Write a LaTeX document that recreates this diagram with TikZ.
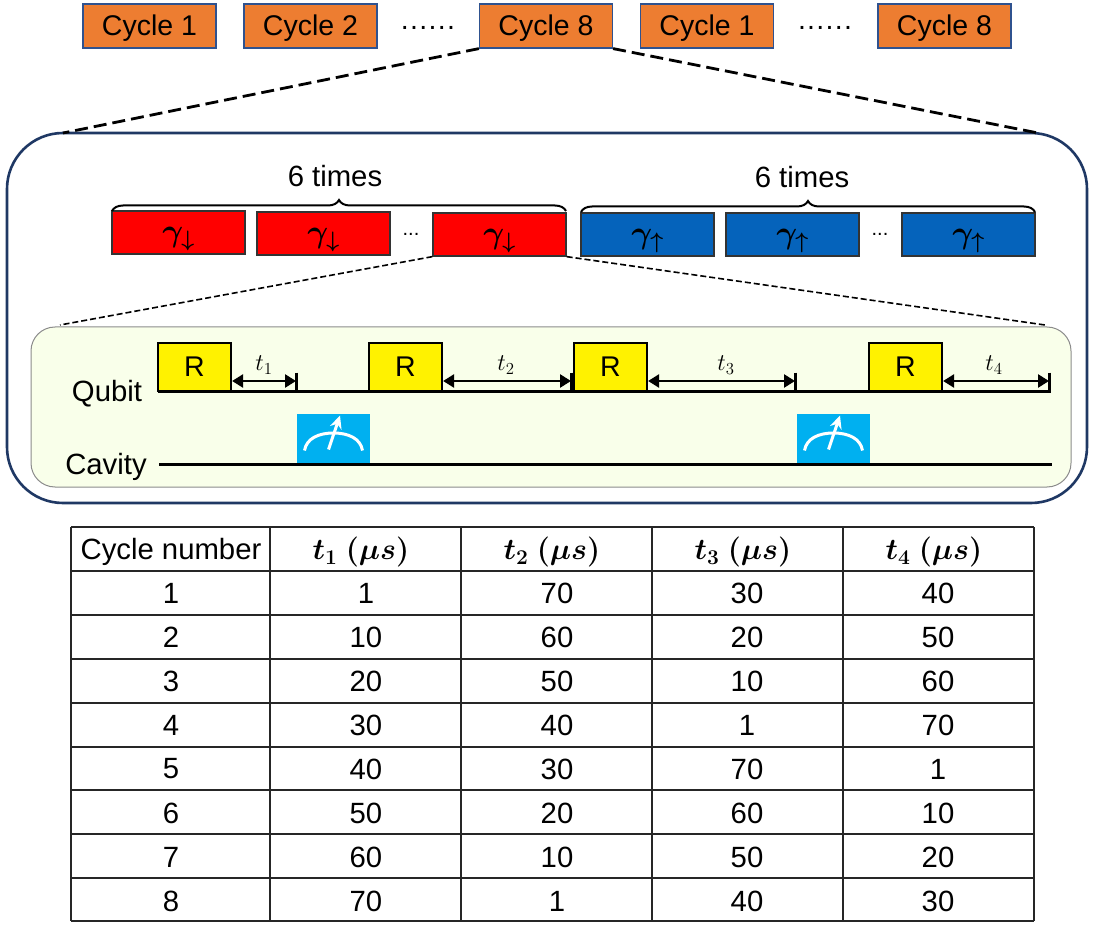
\RequirePackage{fix-cm}
\documentclass[tikz,border=0pt]{standalone}
\usepackage{fontspec}
\setmainfont{Liberation Sans}
\usetikzlibrary{arrows.meta,decorations.pathreplacing}
\definecolor{cyc}{HTML}{ED7D31}
\definecolor{navy}{HTML}{1F3864}
\definecolor{edgeblue}{HTML}{2F528F}
\definecolor{rblue}{HTML}{0563BB}
\definecolor{panel}{HTML}{F9FFEA}
\definecolor{meas}{HTML}{00B0F0}
\newcommand{\tsz}{\fontsize{29.3}{32}\selectfont}
\newcommand{\csz}{\fontsize{28.5}{32}\selectfont}
\newcommand{\msz}{\fontsize{24}{28}\selectfont}
\newcommand{\gsz}{\fontsize{32}{36}\selectfont\boldmath}
\newcommand{\hsz}{\fontsize{30}{36}\selectfont\boldmath}
\newcommand{\gam}[1]{\smash{\raisebox{-9pt}{$\gamma_{#1}$}}}
\tikzset{
  cyclebox/.style={draw=edgeblue,line width=1.2pt,fill=cyc,minimum width=133pt,minimum height=44pt,inner sep=0pt,font=\csz,text=black,text height=21pt,text depth=1pt},
  txt/.style={inner sep=0pt,font=\tsz,text=black},
  redbox/.style={draw=black!80,line width=1.3pt,fill=red,minimum width=133pt,minimum height=43pt,inner sep=0pt,font=\gsz},
  bluebox/.style={draw=black!80,line width=1.3pt,fill=rblue,minimum width=133pt,minimum height=43pt,inner sep=0pt,font=\gsz},
  rbox/.style={draw=black,line width=2.2pt,fill=yellow,minimum width=73pt,minimum height=48pt,inner sep=0pt,font=\csz},
  measbox/.style={fill=meas,minimum width=73pt,minimum height=49pt,inner sep=0pt},
  bigdash/.style={draw=black,line width=2.8pt,dash pattern=on 13pt off 6pt},
  smalldash/.style={draw=black,line width=1.6pt,dash pattern=on 6pt off 3pt},
  wire/.style={draw=black,line width=3pt},
  span/.style={draw=black,line width=2.5pt,{Triangle[length=11pt,width=13pt]}-{Triangle[length=11pt,width=13pt]}},
  bracepath/.style={draw=black,line width=2pt,decorate,decoration={brace,amplitude=11pt,aspect=0.5}},
  tline/.style={draw=black!85,line width=1.2pt},
  dotrow/.style={inner sep=0pt,font=\csz,text=black},
}
\newcommand{\dotline}{.\kern1.3pt.\kern1.3pt.\kern1.3pt.\kern1.3pt.\kern1.3pt.}
\begin{document}
\begin{tikzpicture}[x=1pt,y=-1pt]
\useasboundingbox (0,0) rectangle (1104,928);
% top row
\node[cyclebox] (c1) at (149.5,26) {Cycle 1};
\node[cyclebox] (c2) at (310.5,26) {Cycle 2};
\node[dotrow] (d1) at (428,28) {\dotline};
\node[cyclebox] (c8) at (546,26) {Cycle 8};
\node[cyclebox] (c1b) at (707,26) {Cycle 1};
\node[dotrow] (d2) at (825,28) {\dotline};
\node[cyclebox] (c8b) at (944.5,26) {Cycle 8};
% big panel
\node[draw=navy,line width=2.6pt,rounded corners=56pt,minimum width=1080pt,minimum height=370pt,inner sep=0pt] (big) at (547,318) {};
\coordinate (bl) at (63,133);
\coordinate (br) at (1038,133);
\draw[bigdash] (c8.south west) -- (bl);
\draw[bigdash] (c8.south east) -- (br);
% red / blue
\node[redbox] (r1) at (178.5,232.5) {\gam{\downarrow}};
\node[redbox] (r2) at (323.5,233.5) {\gam{\downarrow}};
\node[txt,font=\fontsize{20}{22}\selectfont] (d3) at (411,234) {...};
\node[redbox] (r3) at (499.5,234.5) {\gam{\downarrow}};
\node[bluebox] (b1) at (647.5,234.5) {\gam{\uparrow}};
\node[bluebox] (b2) at (792.5,234.5) {\gam{\uparrow}};
\node[txt,font=\fontsize{20}{22}\selectfont] (d4) at (880,234) {...};
\node[bluebox] (b3) at (968.5,234.5) {\gam{\uparrow}};
\coordinate (bra) at (112,211); \coordinate (brb) at (566,211);
\coordinate (brc) at (581,212); \coordinate (brd) at (1035,212);
\draw[bracepath] (bra) -- (brb);
\draw[bracepath] (brc) -- (brd);
\node[txt] (t6a) at (335,176) {6 times};
\node[txt] (t6b) at (802,177) {6 times};
% inner panel
\node[draw=black!45,line width=1pt,fill=panel,rounded corners=24pt,minimum width=1040pt,minimum height=160pt,inner sep=0pt] (in) at (551,407) {};
\coordinate (il) at (60,325);
\coordinate (ir) at (1045,325);
\draw[smalldash] (r3.south west) -- (il);
\draw[smalldash] (r3.south east) -- (ir);
% labels
\node[txt] (qb) at (107,394) {Qubit};
\node[txt] (cv) at (106,467) {Cavity};
% measurement boxes
\foreach \nm/\xx in {ma/333.5,mb/833.5}{
  \node[measbox] (\nm) at (\xx,438.5) {};
  \begin{scope}[shift={(\nm.center)}]
    \draw[white,line width=3pt] (-29,12) .. controls (-27,0) and (-15,-5.5) .. (0,-5.5) .. controls (15,-5.5) and (27,0) .. (29,12);
    \draw[white,line width=3pt,-{Stealth[length=13pt,width=12pt]}] (-5,11) -- (6.5,-23);
  \end{scope}
}
% wires
\coordinate (qs) at (158,391); \coordinate (qe) at (1050.5,391);
\coordinate (cs) at (159,464); \coordinate (ce) at (1052,464);
\draw[wire] (qs) -- (qe);
\draw[wire] (cs) -- (ce);
% R boxes and ticks
\node[rbox] (ra) at (194.5,367) {R};
\node[rbox] (rb) at (405.5,367) {R};
\node[rbox] (rc) at (610.5,367) {R};
\node[rbox] (rd) at (905.5,367) {R};
\foreach \nm/\xx in {ta/296,tb/571,tc/795,td/1049}{
  \coordinate (\nm) at (\xx,381);
  \draw[draw=black,line width=3pt] (\xx,372.5) -- (\xx,391);
}
\draw[span] (ra.east |- ta) -- (ta);
\draw[span] (rb.east |- tb) -- (tb);
\draw[span] (rc.east |- tc) -- (tc);
\draw[span] (rd.east |- td) -- (td);
\node[txt,font=\msz] (la) at (264,365) {$t_1$};
\node[txt,font=\msz] (lb) at (506,365) {$t_2$};
\node[txt,font=\msz] (lc) at (726,365) {$t_3$};
\node[txt,font=\msz] (ld) at (994,365) {$t_4$};
% table
\foreach \yy in {527,571,615,659,703,747,790,834,878,921}{
  \draw[tline] (71,\yy) -- (1034,\yy);
}
\foreach \xx in {71,270,461,652,843,1034}{
  \draw[tline] (\xx,527) -- (\xx,921);
}
\node[txt] (h0) at (171,552) {Cycle number};
\node[txt,font=\hsz] (h1) at (361,552) {$t_1\ (\mu s)$};
\node[txt,font=\hsz] (h2) at (552,552) {$t_2\ (\mu s)$};
\node[txt,font=\hsz] (h3) at (743,552) {$t_3\ (\mu s)$};
\node[txt,font=\hsz] (h4) at (934,552) {$t_4\ (\mu s)$};
\foreach \yy/\a/\b/\c/\d/\e in {
  593/1/1/70/30/40,
  637/2/10/60/20/50,
  681/3/20/50/10/60,
  725/4/30/40/1/70,
  769/5/40/30/70/1,
  813/6/50/20/60/10,
  857/7/60/10/50/20,
  901/8/70/1/40/30}{
  \node[txt] (a\a) at (171,\yy) {\a};
  \node[txt] (b\a) at (366,\yy) {\b};
  \node[txt] (c\a x) at (557,\yy) {\c};
  \node[txt] (d\a x) at (747,\yy) {\d};
  \node[txt] (e\a x) at (938,\yy) {\e};
}
\end{tikzpicture}
\end{document}
